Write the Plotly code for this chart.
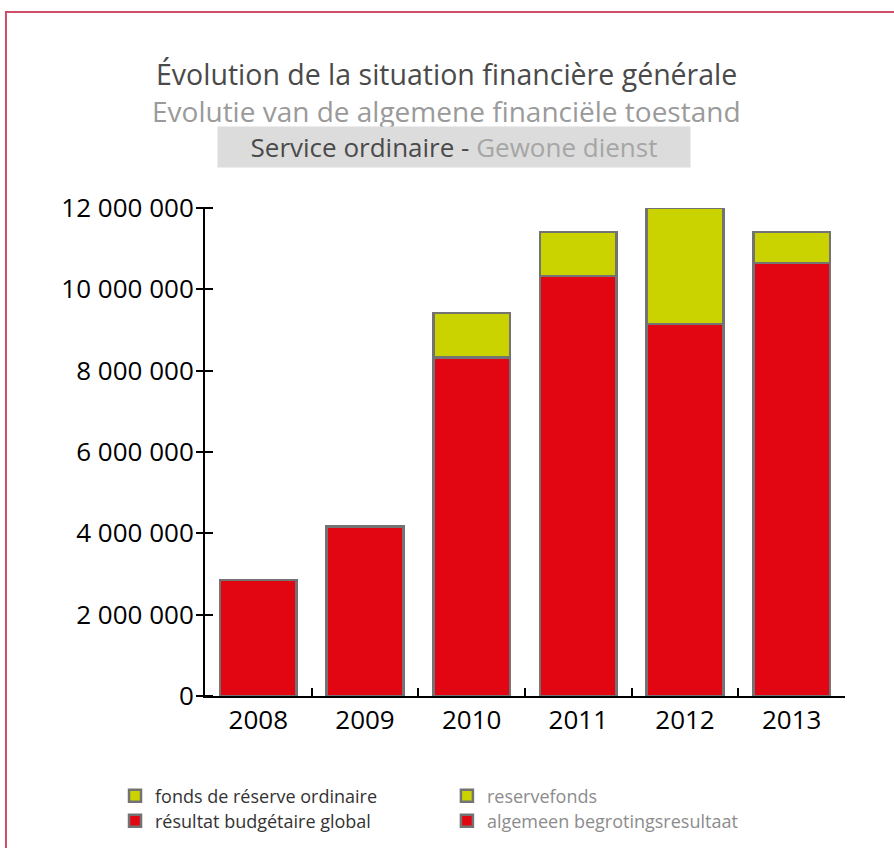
import plotly.graph_objects as go

years = ["2008", "2009", "2010", "2011", "2012", "2013"]
resultat = [2850000, 4170000, 8330000, 10330000, 9150000, 10650000]
reserve = [0, 0, 1090000, 1080000, 2850000, 760000]
y_ticks = [0, 2000000, 4000000, 6000000, 8000000, 10000000, 12000000]

RED = "#e20613"
YEL = "#cad300"
EDGE = "#737373"
FONT = "Open Sans"
NL_GRAY = "#8c8c8c"

fig = go.Figure()
fig.add_trace(go.Bar(x=years, y=resultat, name="résultat budgétaire global",
                     marker=dict(color=RED, line=dict(color=EDGE, width=2.5)),
                     legend="legend3"))
fig.add_trace(go.Bar(x=years, y=reserve, name="fonds de réserve ordinaire",
                     marker=dict(color=YEL, line=dict(color=EDGE, width=2.5)),
                     legend="legend"))
# legend-only entries for the Dutch labels
fig.add_trace(go.Bar(x=[None], y=[None], yaxis="y2",
                     name=f"<span style='color:{NL_GRAY}'>reservefonds</span>",
                     marker=dict(color=YEL, line=dict(color=EDGE, width=2.5)),
                     legend="legend2"))
fig.add_trace(go.Bar(x=[None], y=[None], yaxis="y2",
                     name=f"<span style='color:{NL_GRAY}'>algemeen begrotingsresultaat</span>",
                     marker=dict(color=RED, line=dict(color=EDGE, width=2.5)),
                     legend="legend4"))

leg_common = dict(xanchor="left", yanchor="middle", bgcolor="rgba(0,0,0,0)",
                  font=dict(size=18, color="#333333", family=FONT))
col1_x, col2_x = -0.1406, 0.378
row1_y, row2_y = -0.205, -0.256

fig.update_layout(
    width=894, height=848,
    margin=dict(l=205, r=49, t=208, b=152, autoexpand=False),
    paper_bgcolor="white", plot_bgcolor="white",
    barmode="stack", bargap=0.28,
    separators=", ",
    font=dict(family=FONT, color="black"),
    showlegend=True,
    legend=dict(x=col1_x, y=row1_y, **leg_common),
    legend2=dict(x=col2_x, y=row1_y, **leg_common),
    legend3=dict(x=col1_x, y=row2_y, **leg_common),
    legend4=dict(x=col2_x, y=row2_y, **leg_common),
    xaxis=dict(type="category", showline=True, linecolor="black", linewidth=2,
               ticks="inside", tickson="boundaries", ticklen=8, tickwidth=2, tickcolor="black",
               showgrid=False, tickfont=dict(size=26, color="black", family=FONT)),
    yaxis=dict(range=[0, 12000000], tickvals=y_ticks, tickformat=",d",
               showline=True, linecolor="black", linewidth=2,
               ticks="outside", ticklen=7, tickwidth=2, tickcolor="black",
               ticklabelstandoff=-3,
               showgrid=False, zeroline=False,
               tickfont=dict(size=26, color="black", family=FONT)),
    yaxis2=dict(range=[0, 12000000], tickvals=y_ticks, overlaying="y",
                anchor="free", position=0.0125, side="left",
                ticks="outside", ticklen=15, tickwidth=2, tickcolor="black",
                showticklabels=False, showline=False, showgrid=False, zeroline=False),
    shapes=[dict(type="rect", xref="paper", yref="paper",
                 x0=-0.311, x1=1.1, y0=1.4016, y1=-0.4,
                 line=dict(color="#cf4d6b", width=2), fillcolor="rgba(0,0,0,0)")],
    annotations=[
        dict(text="Évolution de la situation financière générale", xref="paper", yref="paper",
             x=0.377, y=1.2745, xanchor="center", yanchor="middle", showarrow=False,
             font=dict(size=28.5, color="#4a4a4a", family=FONT)),
        dict(text="Evolutie van de algemene financiële toestand", xref="paper", yref="paper",
             x=0.377, y=1.1995, xanchor="center", yanchor="middle", showarrow=False,
             font=dict(size=28, color="#9a9a9a", family=FONT)),
        dict(text="Service ordinaire - <span style='color:#a6a6a6'>Gewone dienst</span>",
             xref="paper", yref="paper", x=0.389, y=1.125, xanchor="center", yanchor="middle",
             showarrow=False, width=470, height=38, bgcolor="#dcdcdc",
             font=dict(size=26, color="#4a4a4a", family=FONT)),
    ],
)

fig.write_html("out.html", post_script="document.body.style.margin='0';",
               config={"displayModeBar": False})
